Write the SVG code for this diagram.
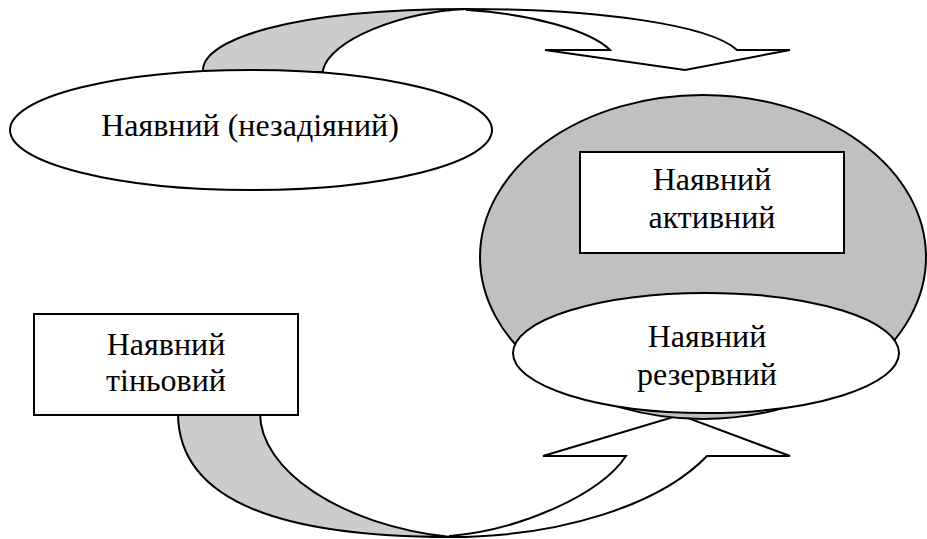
<svg xmlns="http://www.w3.org/2000/svg" width="927" height="539" viewBox="0 0 927 539">
<style>
.ln{stroke:#000;stroke-width:2;stroke-linejoin:miter}
.back{fill:#cccccc}
.front{fill:#fff}
.node{fill:#fff;stroke:#000;stroke-width:2}
.big{fill:#c0c0c0;stroke:#000;stroke-width:2}
</style>
<rect width="927" height="539" fill="#fff"/>
<g id="connectors">
  <g id="arrow-top">
    <path class="ln back" d="M203,72 L203,70 C203,40 290,9 467,9 C400,12 330,40 323,70 L323,72 Z"/>
    <path class="ln front" d="M467,9 C600,9 710,25 737,50 L790,50 L685,70 L545,50 L610,50 C590,30 530,14 467,10 Z"/>
  </g>
  <g id="arrow-bottom">
    <path class="ln back" d="M178,413 C178,500 280,537 450,537 C340,525 260,470 260,413 Z"/>
    <path class="ln front" d="M450,537 C560,537 660,505 707,456 L790,456 L680,415 L543,456 L626,456 C600,495 520,530 450,536 Z"/>
  </g>
</g>
<g id="node-idle">
  <ellipse class="node" cx="251" cy="130" rx="241" ry="60"/>
  <text x="250" y="136" font-family="Liberation Serif" font-size="32" text-anchor="middle">Наявний (незадіяний)</text>
</g>
<g id="node-group">
  <ellipse class="big" cx="703" cy="257" rx="223" ry="162"/>
</g>
<g id="node-active">
  <rect class="node" x="580" y="152" width="264" height="101"/>
  <text x="712" y="190" font-family="Liberation Serif" font-size="32" text-anchor="middle">Наявний</text>
  <text x="712" y="228" font-family="Liberation Serif" font-size="32" text-anchor="middle">активний</text>
</g>
<g id="node-reserve">
  <ellipse class="node" cx="706" cy="353" rx="193" ry="60"/>
  <text x="707" y="347" font-family="Liberation Serif" font-size="32" text-anchor="middle">Наявний</text>
  <text x="707" y="385" font-family="Liberation Serif" font-size="32" text-anchor="middle">резервний</text>
</g>
<g id="node-shadow">
  <rect class="node" x="34" y="314" width="264" height="101"/>
  <text x="166" y="355" font-family="Liberation Serif" font-size="32" text-anchor="middle">Наявний</text>
  <text x="166" y="391" font-family="Liberation Serif" font-size="32" text-anchor="middle">тіньовий</text>
</g>
</svg>
